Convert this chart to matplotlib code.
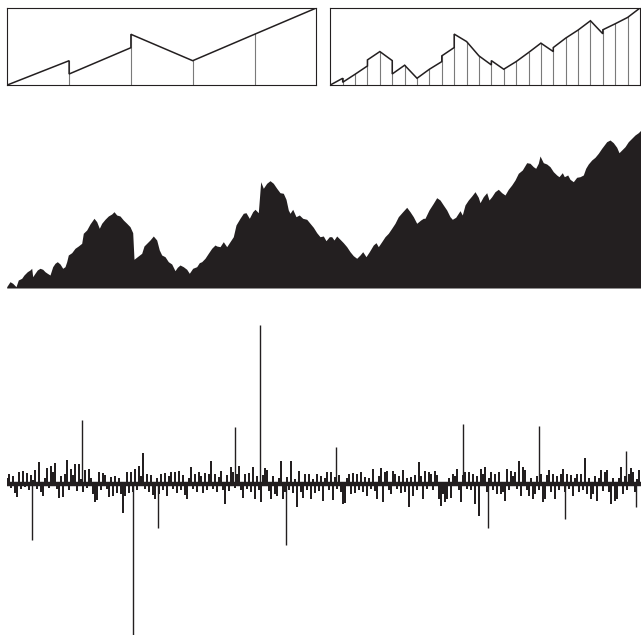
import numpy as np
import matplotlib
matplotlib.use("Agg")
import matplotlib.pyplot as plt

ink = '#231f20'

# top panels: piecewise linear segments (start / end level of each segment)
coarse_start = [0, 11, 50.7, 24.3, 50.7]
coarse_end = [24.3, 37.3, 24.3, 50.7, 77]

fine_start = [0, 2.7, 10.7, 25, 33.3, 11, 19.7, 6.7, 15.7, 29, 50.7, 43.3, 29,
              24.3, 15.7, 23.3, 32.3, 41.7, 37.3, 46.7, 54.7, 64, 55, 61, 67.3]
fine_end = [6.7, 10.7, 19, 33.3, 24.3, 19.7, 6.7, 15.7, 23.3, 37.3, 43.3, 29, 20,
            15.7, 23.3, 32.3, 41.7, 33.3, 46.7, 54.7, 64, 51, 61, 67.3, 76.7]

# middle panel: the series level, read along the silhouette
mid_t = [6.7, 10, 12.7, 16, 18.3, 21.7, 24, 27.3, 30, 31.7, 32.7, 35, 37.3, 40, 42.7, 45, 47.3, 50,
         52.7, 55, 57.3, 60, 62.7, 65, 66.7, 68.3, 71.7, 75, 78.3, 81.7, 83.3, 86.7, 90, 94, 96.7,
         99.3, 101.7, 105, 108.3, 111.7, 114, 116.7, 120, 123.3, 126.7, 130, 132.7, 134, 137.3,
         141.7, 144, 146.7, 150, 153.3, 156.7, 159.3, 161.7, 165, 168.3, 171.7, 175, 177.3, 180,
         183.3, 186.7, 189.3, 192.7, 196.7, 199.3, 201.7, 205, 208.3, 211.7, 215,
         216.7, 220, 223.3, 226.7, 230, 233.3, 236, 240, 243.3, 246, 249.3, 252.7, 255, 258.3,
         260.7, 263.3, 266.7, 270, 273.3, 276.7, 280, 283.3, 286, 288.3, 290, 292.7, 296, 299.3,
         302.7, 306.7, 310, 313.3, 316.7, 320, 323.3, 326, 329.3, 331.7, 334, 336.7, 340, 343.3,
         346.7, 350, 353.3, 356.7, 360, 362.7, 366, 369.3, 373.3, 376, 378.3, 381.7, 385, 388.3,
         391.7, 395, 398.3, 402.7, 406.7, 410, 413.3, 416.7, 420.7, 423.3,
         425, 429, 433.3, 436.7, 440, 443.3, 446.7, 450, 452.3, 455.7, 458.3, 460, 462.3, 465,
         468.3, 471.7, 475, 478.3, 480, 483.3, 486.7, 489, 491.7, 495, 498.3, 501.7, 505, 508.3,
         511.7, 515, 518.3, 522.3, 526.7, 530, 533.3, 535.7, 538.3, 540, 543.3, 546.7, 550, 553.3,
         556.7, 559, 562.3, 564.3, 567.7, 570, 573.3, 576.7, 580, 583.3, 585.7, 588.3, 591.7, 595,
         598.3, 601.7, 606.7, 610, 613.3, 616.7, 619, 621.7, 625, 628.3, 631.7, 635, 638.3, 641]
mid_y = [286.7, 281.7, 283.3, 286.7, 280, 278.3, 275, 271.7, 270, 268.3, 276.7, 273.3, 270, 268.3,
         269.3, 271.7, 273.3, 275, 266.7, 263.3, 261.7, 264, 268.3, 266.7, 261.7, 255, 252.7, 248.3,
         246, 243.3, 233.3, 230, 224, 218.3, 221.7, 228.3, 223.3, 219.3, 216, 214, 211.7, 215, 216,
         220, 223.3, 226.7, 232.7, 259.3, 256.7, 253.3, 246, 243.3, 240, 236, 240, 250, 255, 256.7,
         261.7, 264, 270.7, 267.3, 265, 266.7, 269.3, 273.3, 268.3, 266.7, 262.7, 261.7, 258.3,
         253.3, 248.3, 245,
         246, 246.7, 241.7, 246.7, 241.7, 236.7, 225, 218.3, 213.3, 212.7, 218.3, 211.7, 209.3,
         212.7, 181.7, 188.3, 183.3, 180.7, 183.3, 188.3, 192.7, 193.3, 199.3, 210, 213.3, 209.3,
         216.7, 215, 218.3, 219.3, 223.3, 227.3, 232.7, 236.7, 236, 240.7, 236.7, 236.7, 240, 236,
         239.3, 242.7, 246.7, 251.7, 255.7, 258.3, 255, 251.7, 256.7, 251.7, 245, 242.7, 246.7,
         241.7, 236.7, 233.3, 228.3, 223.3, 216.7, 211.7, 207.3, 211.7, 216.7, 223.3, 220, 218.3,
         218.3, 210, 203.3, 197.7, 200, 205, 210, 216.7, 219.3, 217.3, 213.3, 210.7, 215, 205, 200,
         196, 191.7, 197.3, 202.7, 196.7, 192.7, 200, 196.7, 191.7, 189.3, 192.7, 195, 189.3, 185,
         180, 173.3, 170, 162.7, 163.3, 166.7, 168.3, 163.3, 156, 162.7, 164, 166.7, 171.7, 175,
         176.7, 172.7, 176.7, 175, 179.3, 181.7, 177.3, 176.7, 175, 168.3, 164, 160, 157.3, 153.3,
         148.3, 141.7, 140, 142.7, 147.3, 152.7, 150, 146.7, 141.7, 138.3, 135, 132.7, 130]
mid_level = [288 - v for v in mid_y]

# bottom panel: increments, one every 2 px from 7 to 639
step_t = np.arange(7, 641, 2)
step_val = [6, 10, -4, 8, -9, -13, 12, -5, 13, -3, 11, -6, 9, 4, 14, -5, 22, -8, -12, 6, 16, -4, 18, 12, 21,
            -5, -14, 8, -13, 10, 24, -6, 15, 9, 20, -7, 20, 5, -8, 14, -4, 15, 6, -10, -18, -16, 12, -6, 11, 9,
            -5, -13, 7, -12, 8, -9, 6, -10, -29, -12, 12, -9, 12, -8, 15, -6, 18, 8, 31, -5, 10, -8, 9, -11, -15,
            6, -10, 10, -6, 11, -12, 8, 12, -5, 12, -9, 13, -6, 9, -11, -15, 6, 17, -5, 10, -8, 12, 8, -9, 11,
            -6, 10, 23, -5, 10, -8, 7, 13, -6, -20, 9, -7, 17, 12, -4, 10, 18, -6, -14, 10, -5, 11, -8, 17, -15,
            8, -6, -18, 9, 16, 14, -7, -15, 8, -10, -12, 6, 23, -15, -8, 7, -6, 23, -9, 5, -23, 13, -8, -14, 10,
            -6, 10, -15, 5, -9, 10, -7, 8, -17, 6, 12, -6, 12, -16, 7, -5, 9, -8, -20, -19, 6, 10, -10, 11, -9,
            10, -6, 12, -8, 7, -12, 6, -5, 15, -7, -15, 8, 16, -18, 12, 13, -6, -10, 13, 10, -5, 8, -9, 14, -8,
            6, -23, 7, -12, 9, -6, 22, 8, -15, 13, -5, 12, 10, -6, 13, 9, -15, -22, -10, -18, -15, 6, -14, 10, 8,
            15, -6, -18, 9, 12, -5, 12, -6, 10, -20, 8, -32, 15, 10, 17, -8, 6, 12, -6, 10, -10, 12, -10, -8, -17,
            15, -6, 13, 8, 12, -5, 23, -12, 17, 14, -6, -12, 6, -15, -10, 8, -6, 10, -18, -15, 9, 14, -8, 10, -15,
            8, -6, 10, 15, -8, 10, -5, 9, -12, 6, 10, -8, 10, -6, 26, -10, 6, -15, -10, 8, -17, 6, 14, -7, 12,
            14, -8, -20, 6, -17, -15, 6, 17, -10, 8, -6, 10, 16, 12, -8, 5, 14]
# the few large jumps
jump_t = [32, 82, 133, 158, 235, 260, 286, 336, 463, 488, 539, 565, 626, 636]
jump_val = [-56, 64, -151, -44, 57, 159, -61, 37, 60, -44, 58, -35, 33, -23]

fig = plt.figure(figsize=(6.41, 6.35), dpi=100)
W, H = 641.0, 635.0


def seg_panel(rect, starts, ends):
    ax = fig.add_axes(rect)
    n = len(starts)
    xs, ys = [], []
    for i in range(n):
        xs += [i, i + 1]
        ys += [starts[i], ends[i]]
    for i in range(1, n):
        ax.plot([i, i], [0, max(ends[i - 1], starts[i])], color='#7a7a7a', lw=0.8, zorder=1)
    ax.plot(xs, ys, color=ink, lw=1.1, zorder=2, solid_joinstyle='miter')
    ax.set_xlim(0, n)
    ax.set_ylim(0, max(max(starts), max(ends)))
    ax.set_xticks([])
    ax.set_yticks([])
    for s in ax.spines.values():
        s.set_color(ink)
        s.set_linewidth(0.8)
    return ax


seg_panel([7.3 / W, (H - 85) / H, 309 / W, 77 / H], coarse_start, coarse_end)
seg_panel([330.3 / W, (H - 85) / H, 309.7 / W, 77 / H], fine_start, fine_end)

# middle: filled series
ax2 = fig.add_axes([7 / W, (H - 288) / H, 634 / W, 178 / H])
ax2.fill_between(mid_t, mid_level, 0, color=ink, lw=0)
ax2.set_xlim(7, 641)
ax2.set_ylim(0, 178)
ax2.axis('off')

# bottom: increments
ax3 = fig.add_axes([7 / W, 0, 634 / W, 315 / H])
ax3.bar(step_t, step_val, width=1.9, color=ink, lw=0)
ax3.vlines(jump_t, 0, jump_val, color=ink, lw=1.0)
ax3.axhline(0, color=ink, lw=3.2)
ax3.set_xlim(7, 641)
ax3.set_ylim(-151, 164)
ax3.axis('off')

fig.savefig('out.png', dpi=100)
